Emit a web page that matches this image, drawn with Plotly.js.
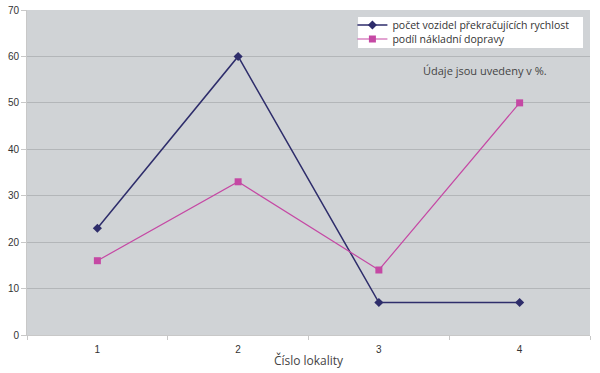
<!DOCTYPE html>
<html><head><meta charset="utf-8">
<script src="https://cdn.plot.ly/plotly-3.0.1.min.js"></script>
<style>body{margin:0;background:#fff}#c{width:600px;height:373px}</style>
</head><body><div id="c"></div>
<script>
const lokality = [1, 2, 3, 4];
const pocetVozidel = [23, 60, 7, 7];
const podilNakladni = [16, 33, 14, 50];
const seriesNames = ['počet vozidel překračujících rychlost', 'podíl nákladní dopravy'];
const yTicks = [0, 10, 20, 30, 40, 50, 60, 70];

const legFont = {family: 'Open Sans, sans-serif', size: 10.5, color: '#333'};
const traces = [
  {x: lokality, y: pocetVozidel, name: seriesNames[0], type: 'scatter', mode: 'lines+markers', legend: 'legend',
   line: {color: '#2e2d6b', width: 1.5}, marker: {symbol: 'diamond', size: 7, color: '#2e2d6b'}},
  {x: lokality, y: podilNakladni, name: seriesNames[1], type: 'scatter', mode: 'lines+markers', legend: 'legend2',
   line: {color: '#c548a4', width: 1.2}, marker: {symbol: 'square', size: 7, color: '#c548a4'}}
];

const layout = {
  width: 600, height: 373,
  margin: {l: 27, r: 10, t: 10, b: 38},
  paper_bgcolor: '#ffffff', plot_bgcolor: '#d0d3d6',
  showlegend: true,
  legend: {x: 0.578, y: 0.9538, xanchor: 'left', yanchor: 'middle', bgcolor: 'rgba(0,0,0,0)',
           font: legFont, itemwidth: 30, borderwidth: 0},
  legend2: {x: 0.578, y: 0.9108, xanchor: 'left', yanchor: 'middle', bgcolor: 'rgba(0,0,0,0)',
           font: legFont, itemwidth: 30, borderwidth: 0},
  shapes: [{type: 'rect', xref: 'paper', yref: 'paper', x0: 0.588, x1: 0.9876, y0: 0.8831, y1: 0.9785,
            fillcolor: '#ffffff', line: {width: 0}, layer: 'above'}],
  xaxis: {range: [0.5, 4.5], tickvals: lokality, ticktext: lokality.map(String), ticks: '', automargin: false,
          showgrid: false, zeroline: false, showline: true, linecolor: '#c8c8c8', ticklabelstandoff: 5,
          tickfont: {family: 'Liberation Sans, Arial, sans-serif', size: 10, color: '#333'},
          minor: {tick0: 0.5, dtick: 1, ticks: 'outside', ticklen: 4, tickcolor: '#c8c8c8', showgrid: false},
          title: {text: 'Číslo lokality', font: {family: 'Open Sans, sans-serif', size: 12, color: '#444'}, standoff: 2}},
  yaxis: {range: [0, 70], tickvals: yTicks, ticks: 'outside', ticklen: 5, tickcolor: '#c8c8c8', automargin: false,
          showgrid: true, gridcolor: '#b3b6b9', gridwidth: 1, zeroline: false,
          showline: true, linecolor: '#c8c8c8',
          tickfont: {family: 'Liberation Sans, Arial, sans-serif', size: 10, color: '#333'}},
  annotations: [{text: 'Údaje jsou uvedeny v %.', xref: 'paper', yref: 'paper', x: 0.8135, y: 0.815,
                 xanchor: 'center', yanchor: 'middle', showarrow: false,
                 font: {family: 'Open Sans, sans-serif', size: 11, color: '#444'}}]
};
Plotly.newPlot('c', traces, layout, {displayModeBar: false, staticPlot: true});
</script></body></html>
